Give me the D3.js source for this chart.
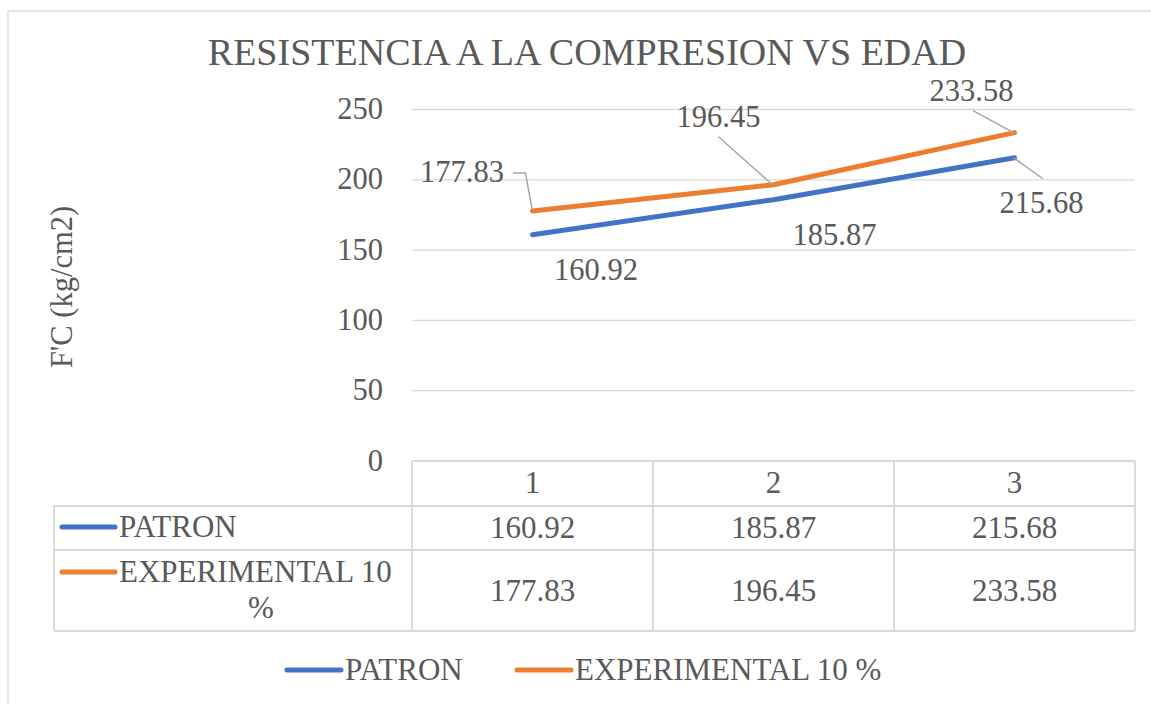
<!DOCTYPE html>
<html lang="es">
<head>
<meta charset="UTF-8">
<title>Resistencia a la compresion vs edad</title>
<script src="https://d3js.org/d3.v7.min.js"></script>
<style>
    body { margin: 0; background: #fff; }
    .grid line { stroke: #d9d9d9; stroke-width: 1.3px; }
    .tbl line { stroke: #d9d9d9; stroke-width: 1.8px; }
    .line { fill: none; stroke-width: 5px; stroke-linecap: round; stroke-linejoin: round; }
    .leader { fill: none; stroke: #a6a6a6; stroke-width: 1.5px; }
</style>
</head>
<body>
<svg width="1151" height="704"></svg>
<script>
    // data
    const categories = ['1', '2', '3'];
    const seriesNames = ['PATRON', 'EXPERIMENTAL 10 %'];
    const patron = [160.92, 185.87, 215.68];
    const experimental = [177.83, 196.45, 233.58];
    const yTicks = [0, 50, 100, 150, 200, 250];
    const colors = ['#4472C4', '#ED7D31'];

    const FONT = '"Liberation Serif", "Times New Roman", serif';
    const TXT = '#595959';

    const series = [
        { name: seriesNames[0], values: patron, color: colors[0] },
        { name: seriesNames[1], values: experimental, color: colors[1] }
    ];

    const svg = d3.select('svg');

    function label(sel, size) {
        return sel.attr('font-family', FONT).style('font-family', FONT)
            .attr('fill', TXT).style('font-size', size + 'px');
    }

    // chart frame
    svg.append('rect')
        .attr('x', 8).attr('y', 11)
        .attr('width', 1160).attr('height', 720)
        .attr('fill', 'none').attr('stroke', '#d9d9d9').attr('stroke-width', 1.3);

    const plot = { left: 412, right: 1135, top: 109.5, bottom: 461 };

    const x = d3.scaleBand().domain(categories).range([plot.left, plot.right]);
    const y = d3.scaleLinear().domain([0, 250]).range([plot.bottom, plot.top]);
    const cx = c => x(c) + x.bandwidth() / 2;

    // title
    label(svg.append('text'), 38)
        .attr('x', 587).attr('y', 65)
        .attr('text-anchor', 'middle')
        .text('RESISTENCIA A LA COMPRESION VS EDAD');

    // gridlines
    svg.append('g').attr('class', 'grid')
        .selectAll('line').data(yTicks.filter(t => t > 0)).join('line')
        .attr('x1', plot.left).attr('x2', plot.right)
        .attr('y1', d => y(d)).attr('y2', d => y(d));

    // y axis labels
    const yAxis = svg.append('g')
        .attr('transform', `translate(${plot.left}, 0)`)
        .call(d3.axisLeft(y).tickValues(yTicks).tickSize(0).tickPadding(29));
    yAxis.select('.domain').remove();
    yAxis.attr('font-family', FONT);
    label(yAxis.selectAll('text'), 30.5).attr('dy', '0.3em');

    label(svg.append('text'), 30.5)
        .attr('transform', 'translate(72, 287) rotate(-90)')
        .attr('text-anchor', 'middle')
        .text("F'C (kg/cm2)");

    // lines
    const line = d3.line().x((d, i) => cx(categories[i])).y(d => y(d));
    svg.selectAll('.line').data(series).join('path')
        .attr('class', 'line')
        .attr('d', d => line(d.values))
        .style('stroke', d => d.color);

    // data label placement: anchor offset from the point, leader start offset from the anchor
    const labelLayout = [
        [{ dx: 63.5, dy: 45 }, { dx: 61, dy: 45 }, { dx: 27, dy: 55, lx: 1.5, ly: -34 }],
        [{ dx: -70.5, dy: -29, elbow: true }, { dx: -55, dy: -58, lx: 0, ly: 10 }, { dx: -43, dy: -32, lx: 1.5, ly: 10 }]
    ];

    series.forEach((s, si) => {
        s.values.forEach((v, i) => {
            const px = cx(categories[i]);
            const py = y(v);
            const o = labelLayout[si][i];
            const tx = px + o.dx;
            const ty = py + o.dy;
            label(svg.append('text'), 30.5)
                .attr('x', tx).attr('y', ty)
                .attr('text-anchor', 'middle')
                .text(v.toFixed(2));
            if (o.elbow) {
                const ey = ty - 9;
                svg.append('path').attr('class', 'leader')
                    .attr('d', `M${tx + 51},${ey} L${px - 7},${ey} L${px - 0.5},${py - 2}`);
            } else if (o.lx !== undefined) {
                svg.append('path').attr('class', 'leader')
                    .attr('d', `M${tx + o.lx},${ty + o.ly} L${px - 1},${py}`);
            }
        });
    });

    // data table
    const rowTop = [506, 550];
    const rowBot = [550, 631];
    const tableLeft = 54;
    const tbl = svg.append('g').attr('class', 'tbl');
    const tableBottom = rowBot[rowBot.length - 1];

    tbl.append('line').attr('x1', plot.left).attr('x2', plot.right)
        .attr('y1', plot.bottom).attr('y2', plot.bottom);
    [rowTop[0], rowTop[1], tableBottom].forEach(yy => {
        tbl.append('line').attr('x1', tableLeft).attr('x2', plot.right)
            .attr('y1', yy).attr('y2', yy);
    });
    categories.forEach(c => {
        tbl.append('line').attr('x1', x(c)).attr('x2', x(c))
            .attr('y1', plot.bottom).attr('y2', tableBottom);
    });
    tbl.append('line').attr('x1', plot.right).attr('x2', plot.right)
        .attr('y1', plot.bottom).attr('y2', tableBottom);
    tbl.append('line').attr('x1', tableLeft).attr('x2', tableLeft)
        .attr('y1', rowTop[0]).attr('y2', tableBottom);

    // category header
    label(svg.selectAll('.cat').data(categories).join('text'), 31)
        .attr('x', d => cx(d)).attr('y', 493)
        .attr('text-anchor', 'middle')
        .text(d => d);

    // table cells
    const cellBase = [538, 601];
    series.forEach((s, si) => {
        s.values.forEach((v, i) => {
            label(svg.append('text'), 31)
                .attr('x', cx(categories[i])).attr('y', cellBase[si])
                .attr('text-anchor', 'middle')
                .text(v.toFixed(2));
        });
    });

    // row legend keys
    const keyY = [527, 572];
    series.forEach((s, si) => {
        svg.append('line')
            .attr('x1', 62).attr('x2', 115)
            .attr('y1', keyY[si]).attr('y2', keyY[si])
            .attr('stroke', s.color).attr('stroke-width', 5).attr('stroke-linecap', 'round');
    });
    label(svg.append('text'), 31).attr('x', 119).attr('y', 537).text(seriesNames[0]);
    label(svg.append('text'), 31).attr('x', 119).attr('y', 582).text('EXPERIMENTAL 10');
    label(svg.append('text'), 31).attr('x', 261).attr('y', 618)
        .attr('text-anchor', 'middle').text('%');

    // bottom legend
    const legendX = [287, 517];
    const legend = svg.selectAll('.legend').data(series).join('g')
        .attr('class', 'legend')
        .attr('transform', (d, i) => `translate(${legendX[i]}, 670)`);
    legend.append('line')
        .attr('x1', 0).attr('x2', 54)
        .attr('y1', 0).attr('y2', 0)
        .attr('stroke', d => d.color).attr('stroke-width', 5).attr('stroke-linecap', 'round');
    label(legend.append('text'), 31)
        .attr('x', 58).attr('y', 10)
        .text(d => d.name);
</script>
</body>
</html>
